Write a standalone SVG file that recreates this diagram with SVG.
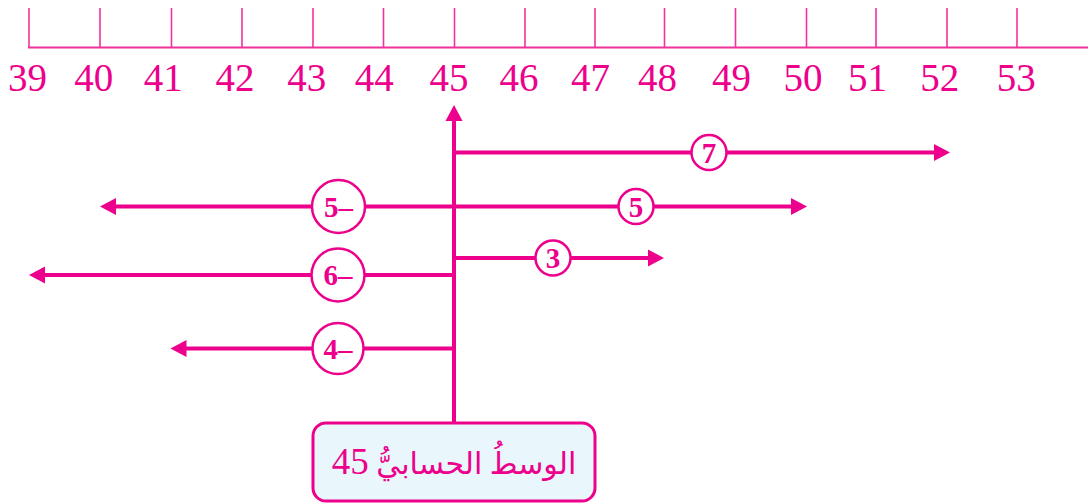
<svg xmlns="http://www.w3.org/2000/svg" width="1088" height="504" viewBox="0 0 1088 504">
<style>
.tick{stroke:#f0339c;stroke-width:1.6;fill:none}
.axis{stroke:#f0339c;stroke-width:2;fill:none}
.num{font-family:"Liberation Serif",serif;font-size:39px;fill:#ec008c;text-anchor:middle}
.ln{stroke:#ec008c;stroke-width:4;fill:none}
.ah{fill:#ec008c}
.cir{fill:#fff;stroke:#ec008c;stroke-width:2.5}
.ct{font-family:"Liberation Serif",serif;font-weight:bold;font-size:29px;fill:#ec008c;text-anchor:middle}
.box{fill:#e9f6fb;stroke:#ec008c;stroke-width:3}
.bt{font-family:"Liberation Serif","DejaVu Sans",sans-serif;font-size:30px;fill:#ec008c;text-anchor:middle}
</style>
<rect width="1088" height="504" fill="#fff"/>
<g id="number-line">
<line class="axis" x1="28" y1="47.5" x2="1088" y2="47.5"/>
<g class="tick">
<line x1="29" y1="8" x2="29" y2="48"/>
<line x1="100" y1="8" x2="100" y2="48"/>
<line x1="171.5" y1="8" x2="171.5" y2="48"/>
<line x1="242" y1="8" x2="242" y2="48"/>
<line x1="313" y1="8" x2="313" y2="48"/>
<line x1="383.5" y1="8" x2="383.5" y2="48"/>
<line x1="454.5" y1="8" x2="454.5" y2="48"/>
<line x1="525" y1="8" x2="525" y2="48"/>
<line x1="595" y1="8" x2="595" y2="48"/>
<line x1="664.5" y1="8" x2="664.5" y2="48"/>
<line x1="735.5" y1="8" x2="735.5" y2="48"/>
<line x1="806.5" y1="8" x2="806.5" y2="48"/>
<line x1="876" y1="8" x2="876" y2="48"/>
<line x1="947" y1="8" x2="947" y2="48"/>
<line x1="1017" y1="8" x2="1017" y2="48"/>
</g>
<text class="num" x="27.5" y="91">39</text>
<text class="num" x="93.7" y="91">40</text>
<text class="num" x="163.3" y="91">41</text>
<text class="num" x="235" y="91">42</text>
<text class="num" x="306.8" y="91">43</text>
<text class="num" x="374.2" y="91">44</text>
<text class="num" x="449" y="91">45</text>
<text class="num" x="519" y="91">46</text>
<text class="num" x="590.5" y="91">47</text>
<text class="num" x="657.6" y="91">48</text>
<text class="num" x="731.6" y="91">49</text>
<text class="num" x="802.9" y="91">50</text>
<text class="num" x="867.5" y="91">51</text>
<text class="num" x="939.8" y="91">52</text>
<text class="num" x="1016.3" y="91">53</text>
</g>
<g id="connectors">
<line class="ln" x1="454" y1="118" x2="454" y2="424"/>
<polygon class="ah" points="454,105 445.5,121 462.5,121"/>
<line class="ln" x1="454" y1="152.5" x2="937" y2="152.5"/>
<polygon class="ah" points="950,152.5 934,144 934,161"/>
<line class="ln" x1="113" y1="206.5" x2="794" y2="206.5"/>
<polygon class="ah" points="807,206.5 791,198 791,215"/>
<polygon class="ah" points="100,206.5 116,198 116,215"/>
<line class="ln" x1="454" y1="258" x2="651" y2="258"/>
<polygon class="ah" points="664,258 648,249.5 648,266.5"/>
<line class="ln" x1="42" y1="275" x2="456" y2="275"/>
<polygon class="ah" points="29,275 45,266.5 45,283.5"/>
<line class="ln" x1="183" y1="348.5" x2="456" y2="348.5"/>
<polygon class="ah" points="170.5,348.5 186.5,340 186.5,357"/>
</g>
<g id="c7"><circle class="cir" cx="709" cy="152.5" r="17.5"/><text class="ct" x="709" y="162.5">7</text></g>
<g id="c5"><circle class="cir" cx="636" cy="206.5" r="17.5"/><text class="ct" x="636" y="216.5">5</text></g>
<g id="c3"><circle class="cir" cx="553" cy="258" r="17.5"/><text class="ct" x="553" y="268">3</text></g>
<g id="cm5"><circle class="cir" cx="338.5" cy="206.5" r="26.5"/><text class="ct" x="338.5" y="216.5">5–</text></g>
<g id="cm6"><circle class="cir" cx="338" cy="275" r="26.5"/><text class="ct" x="338" y="285">6–</text></g>
<g id="cm4"><circle class="cir" cx="338" cy="348.5" r="25.5"/><text class="ct" x="338" y="358.5">4–</text></g>
<g id="mean-box">
<rect class="box" x="313" y="423" width="282" height="78" rx="13"/>
<text class="bt" x="454" y="474" direction="rtl">الوسطُ الحسابيُّ <tspan font-size="37">45</tspan></text>
</g>
</svg>
